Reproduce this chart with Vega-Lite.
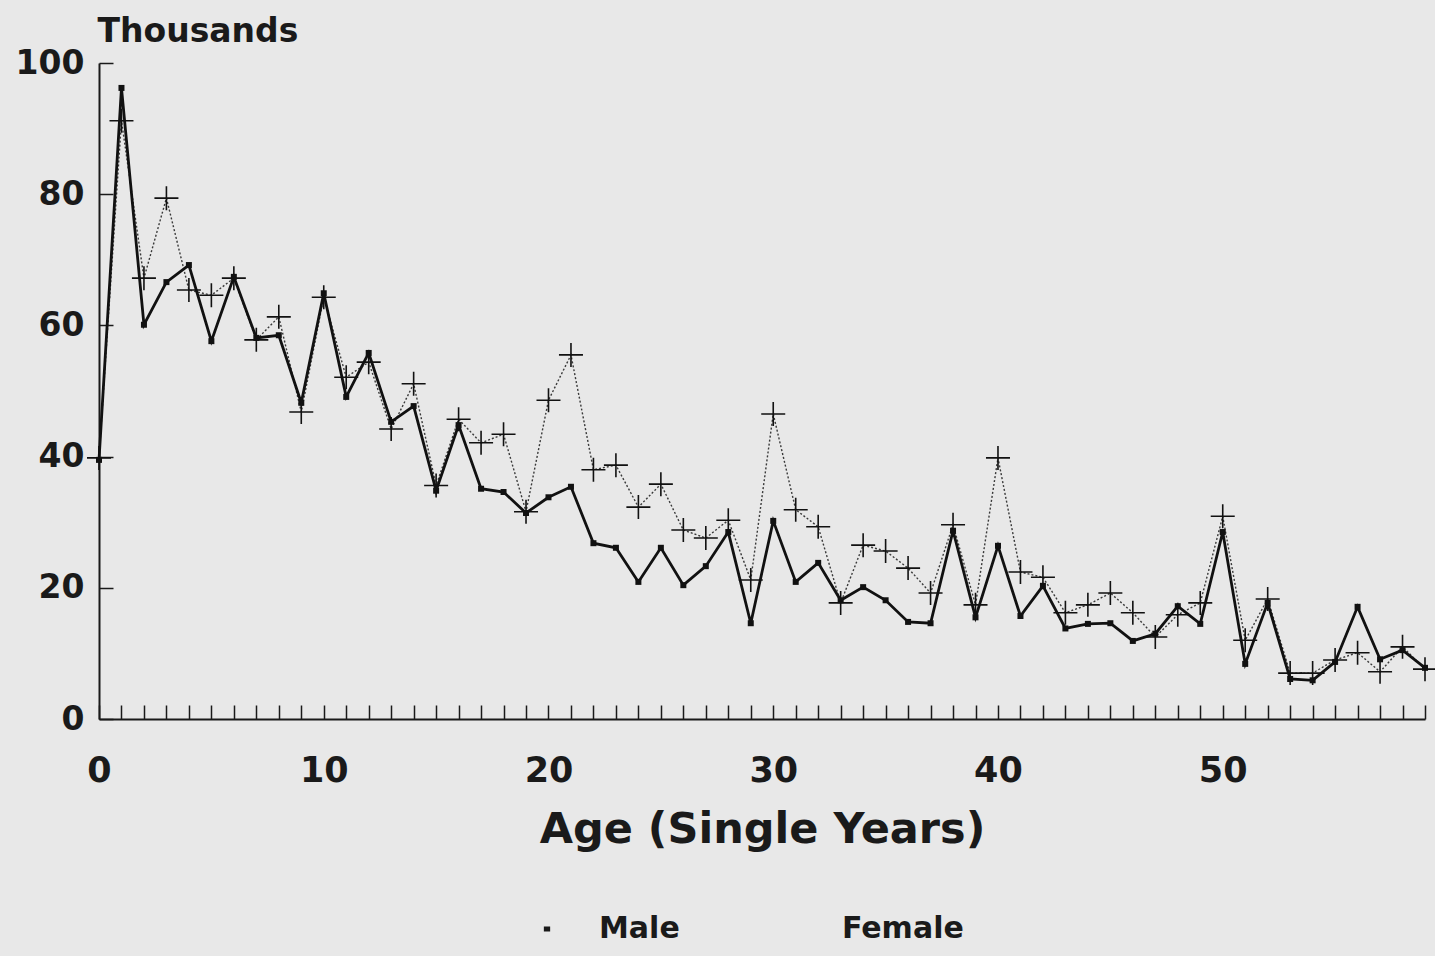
{
  "$schema": "https://vega.github.io/schema/vega-lite/v6.json",
  "autosize": "none",
  "width": 1326,
  "height": 656,
  "padding": {"left": 99, "top": 63, "right": 10, "bottom": 237},
  "background": "#e8e8e8",
  "config": {
    "font": "DejaVu Sans",
    "view": {"stroke": null},
    "axis": {"domainColor": "#1a1a1a", "tickColor": "#1a1a1a", "labelColor": "#1a1a1a", "titleColor": "#1a1a1a", "grid": false, "labelFontWeight": "bold", "titleFontWeight": "bold", "domainWidth": 2, "tickWidth": 1.5, "labelFlush": false}
  },
  "data": {"values": [
    {"age":0,"sex":"Male","value":39.5},{"age":0,"sex":"Female","value":39.8},
    {"age":1,"sex":"Male","value":96.2},{"age":1,"sex":"Female","value":91.2},
    {"age":2,"sex":"Male","value":60.1},{"age":2,"sex":"Female","value":67.2},
    {"age":3,"sex":"Male","value":66.6},{"age":3,"sex":"Female","value":79.4},
    {"age":4,"sex":"Male","value":69.2},{"age":4,"sex":"Female","value":65.4},
    {"age":5,"sex":"Male","value":57.6},{"age":5,"sex":"Female","value":64.6},
    {"age":6,"sex":"Male","value":67.4},{"age":6,"sex":"Female","value":67.2},
    {"age":7,"sex":"Male","value":58.1},{"age":7,"sex":"Female","value":57.8},
    {"age":8,"sex":"Male","value":58.5},{"age":8,"sex":"Female","value":61.3},
    {"age":9,"sex":"Male","value":48.2},{"age":9,"sex":"Female","value":46.8},
    {"age":10,"sex":"Male","value":64.9},{"age":10,"sex":"Female","value":64.3},
    {"age":11,"sex":"Male","value":49.1},{"age":11,"sex":"Female","value":52.1},
    {"age":12,"sex":"Male","value":55.8},{"age":12,"sex":"Female","value":54.4},
    {"age":13,"sex":"Male","value":45.3},{"age":13,"sex":"Female","value":44.2},
    {"age":14,"sex":"Male","value":47.7},{"age":14,"sex":"Female","value":51.1},
    {"age":15,"sex":"Male","value":34.8},{"age":15,"sex":"Female","value":35.6},
    {"age":16,"sex":"Male","value":44.8},{"age":16,"sex":"Female","value":45.7},
    {"age":17,"sex":"Male","value":35.1},{"age":17,"sex":"Female","value":42.1},
    {"age":18,"sex":"Male","value":34.6},{"age":18,"sex":"Female","value":43.4},
    {"age":19,"sex":"Male","value":31.4},{"age":19,"sex":"Female","value":31.6},
    {"age":20,"sex":"Male","value":33.8},{"age":20,"sex":"Female","value":48.6},
    {"age":21,"sex":"Male","value":35.4},{"age":21,"sex":"Female","value":55.5},
    {"age":22,"sex":"Male","value":26.8},{"age":22,"sex":"Female","value":38.0},
    {"age":23,"sex":"Male","value":26.1},{"age":23,"sex":"Female","value":38.7},
    {"age":24,"sex":"Male","value":20.9},{"age":24,"sex":"Female","value":32.3},
    {"age":25,"sex":"Male","value":26.1},{"age":25,"sex":"Female","value":35.8},
    {"age":26,"sex":"Male","value":20.4},{"age":26,"sex":"Female","value":28.8},
    {"age":27,"sex":"Male","value":23.3},{"age":27,"sex":"Female","value":27.6},
    {"age":28,"sex":"Male","value":28.5},{"age":28,"sex":"Female","value":30.3},
    {"age":29,"sex":"Male","value":14.6},{"age":29,"sex":"Female","value":21.2},
    {"age":30,"sex":"Male","value":30.2},{"age":30,"sex":"Female","value":46.5},
    {"age":31,"sex":"Male","value":20.9},{"age":31,"sex":"Female","value":31.9},
    {"age":32,"sex":"Male","value":23.8},{"age":32,"sex":"Female","value":29.3},
    {"age":33,"sex":"Male","value":18.1},{"age":33,"sex":"Female","value":17.7},
    {"age":34,"sex":"Male","value":20.1},{"age":34,"sex":"Female","value":26.5},
    {"age":35,"sex":"Male","value":18.1},{"age":35,"sex":"Female","value":25.6},
    {"age":36,"sex":"Male","value":14.8},{"age":36,"sex":"Female","value":23.0},
    {"age":37,"sex":"Male","value":14.6},{"age":37,"sex":"Female","value":19.2},
    {"age":38,"sex":"Male","value":28.7},{"age":38,"sex":"Female","value":29.6},
    {"age":39,"sex":"Male","value":15.5},{"age":39,"sex":"Female","value":17.4},
    {"age":40,"sex":"Male","value":26.4},{"age":40,"sex":"Female","value":39.8},
    {"age":41,"sex":"Male","value":15.7},{"age":41,"sex":"Female","value":22.4},
    {"age":42,"sex":"Male","value":20.3},{"age":42,"sex":"Female","value":21.6},
    {"age":43,"sex":"Male","value":13.8},{"age":43,"sex":"Female","value":16.2},
    {"age":44,"sex":"Male","value":14.5},{"age":44,"sex":"Female","value":17.4},
    {"age":45,"sex":"Male","value":14.6},{"age":45,"sex":"Female","value":19.2},
    {"age":46,"sex":"Male","value":11.9},{"age":46,"sex":"Female","value":16.2},
    {"age":47,"sex":"Male","value":13.0},{"age":47,"sex":"Female","value":12.5},
    {"age":48,"sex":"Male","value":17.2},{"age":48,"sex":"Female","value":15.9},
    {"age":49,"sex":"Male","value":14.5},{"age":49,"sex":"Female","value":17.7},
    {"age":50,"sex":"Male","value":28.5},{"age":50,"sex":"Female","value":30.9},
    {"age":51,"sex":"Male","value":8.4},{"age":51,"sex":"Female","value":12.0},
    {"age":52,"sex":"Male","value":17.7},{"age":52,"sex":"Female","value":18.3},
    {"age":53,"sex":"Male","value":6.1},{"age":53,"sex":"Female","value":7.0},
    {"age":54,"sex":"Male","value":5.9},{"age":54,"sex":"Female","value":7.0},
    {"age":55,"sex":"Male","value":8.7},{"age":55,"sex":"Female","value":9.0},
    {"age":56,"sex":"Male","value":17.1},{"age":56,"sex":"Female","value":10.1},
    {"age":57,"sex":"Male","value":9.1},{"age":57,"sex":"Female","value":7.2},
    {"age":58,"sex":"Male","value":10.5},{"age":58,"sex":"Female","value":11.0},
    {"age":59,"sex":"Male","value":7.8},{"age":59,"sex":"Female","value":7.6}
  ]},
  "encoding": {
    "x": {
      "field": "age", "type": "quantitative",
      "scale": {"domain": [0, 59], "nice": false, "zero": false},
      "axis": {
        "values": [0,1,2,3,4,5,6,7,8,9,10,11,12,13,14,15,16,17,18,19,20,21,22,23,24,25,26,27,28,29,30,31,32,33,34,35,36,37,38,39,40,41,42,43,44,45,46,47,48,49,50,51,52,53,54,55,56,57,58,59],
        "labelExpr": "datum.value % 10 === 0 ? datum.label : ''",
        "labelOverlap": false,
        "labelFontSize": 35,
        "labelPadding": 48,
        "tickSize": -14,
        "title": "Age (Single Years)",
        "titleFontSize": 43,
        "titlePadding": 20
      }
    },
    "y": {
      "field": "value", "type": "quantitative",
      "scale": {"domain": [0, 100], "nice": false},
      "axis": {
        "values": [0, 20, 40, 60, 80, 100],
        "labelFontSize": 33,
        "labelPadding": 29,
        "tickSize": -14,
        "title": "Thousands",
        "titleAngle": 0,
        "titleAlign": "left",
        "titleBaseline": "alphabetic",
        "titleFontSize": 33,
        "titleX": -2,
        "titleY": -22
      }
    }
  },
  "layer": [
    {
      "transform": [{"filter": "datum.sex === 'Female'"}],
      "mark": {"type": "line", "color": "#3a3a3a", "strokeWidth": 1.4, "strokeDash": [2, 2]}
    },
    {
      "transform": [{"filter": "datum.sex === 'Male'"}],
      "mark": {"type": "line", "color": "#111111", "strokeWidth": 2.8}
    },
    {
      "transform": [{"filter": "datum.sex === 'Male'"}],
      "mark": {"type": "point", "shape": "square", "opacity": 1, "filled": true, "size": 36, "color": "#111111"}
    },
    {
      "transform": [{"filter": "datum.sex === 'Female'"}],
      "mark": {"type": "point", "shape": "M-1,0L1,0M0,-1L0,1", "opacity": 1, "filled": false, "size": 576, "strokeWidth": 1.6, "color": "#111111"}
    },
    {
      "mark": {"type": "point", "opacity": 0, "filled": false, "color": "#1a1a1a", "fill": "#1a1a1a", "stroke": "#1a1a1a", "strokeWidth": 1.4, "size": 4900},
      "encoding": {
        "shape": {
          "field": "sex", "type": "nominal",
          "scale": {"domain": ["Male", "Female"], "range": [
            "M-1,0L1,0M-0.09,-0.07L0.09,-0.07L0.09,0.07L-0.09,0.07Z",
            "M-1,0L-0.94,0M-0.88,0L-0.82,0M-0.76,0L-0.70,0M-0.64,0L-0.58,0M-0.52,0L-0.46,0M-0.40,0L-0.34,0M-0.28,0L-0.22,0M-0.19,0L0.19,0M0,-0.21L0,0.21M0.24,0L0.30,0M0.36,0L0.42,0M0.48,0L0.54,0M0.60,0L0.66,0M0.72,0L0.78,0M0.84,0L0.90,0M0.96,0L1,0"
          ]},
          "legend": {
            "title": null,
            "orient": "none",
            "legendX": 412,
            "legendY": 830,
            "direction": "horizontal",
            "padding": 0,
            "symbolSize": 4900,
            "symbolOpacity": 1,
            "symbolStrokeWidth": 1.4,
            "symbolStrokeColor": "#1a1a1a",
            "symbolFillColor": "#1a1a1a",
            "labelFontSize": 30,
            "labelFontWeight": "bold",
            "labelColor": "#1a1a1a",
            "labelOffset": 16,
            "columnPadding": 72
          }
        }
      }
    }
  ]
}
